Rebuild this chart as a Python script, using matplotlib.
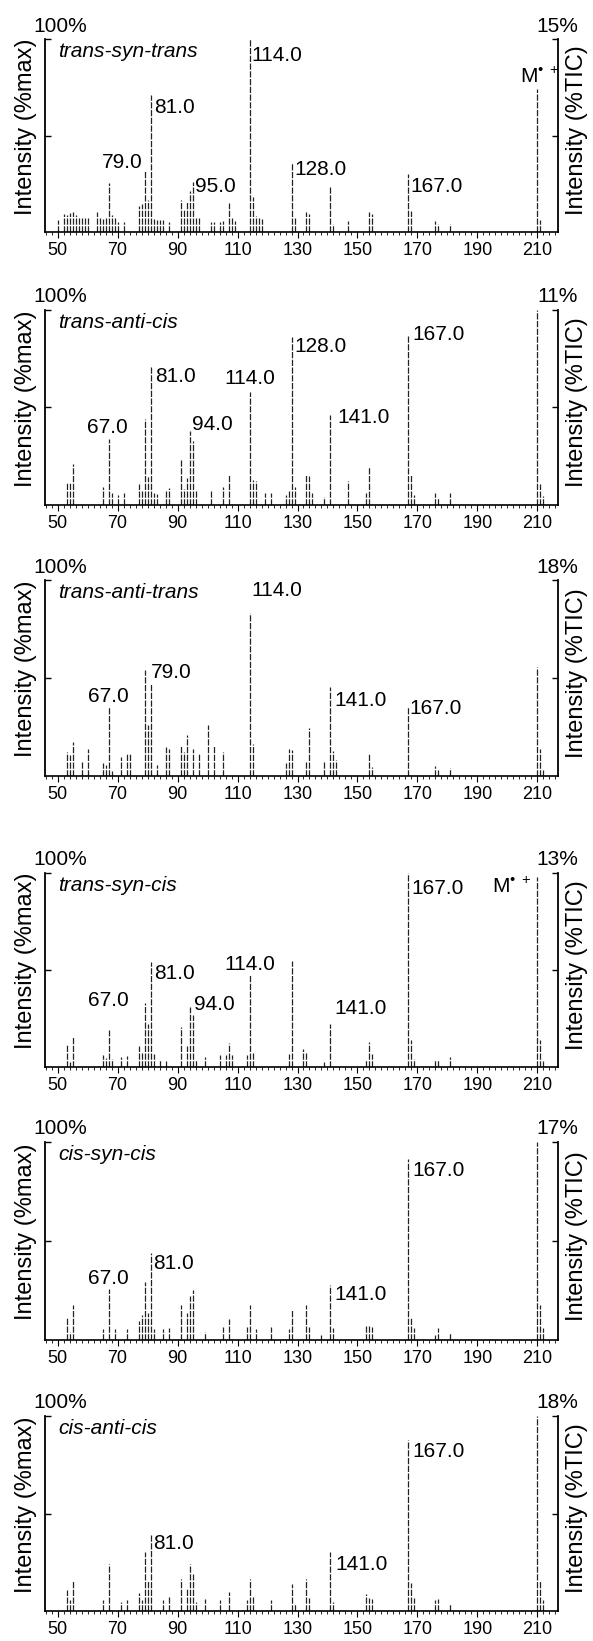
import matplotlib.pyplot as plt
from matplotlib.ticker import MultipleLocator

plt.rcParams['font.family'] = ['Liberation Sans', 'DejaVu Sans']
plt.rcParams['mathtext.fontset'] = 'custom'
plt.rcParams['mathtext.rm'] = 'Liberation Sans'
plt.rcParams['mathtext.it'] = 'Liberation Sans:italic'

# ---- data (m/z, intensity %max) per isomer ----
names = ['trans-syn-trans', 'trans-anti-cis', 'trans-anti-trans',
         'trans-syn-cis', 'cis-syn-cis', 'cis-anti-cis']
tic_pct = ['15%', '11%', '18%', '13%', '17%', '18%']

tst_mz = [50, 52, 53, 54, 55, 56, 57, 58, 59, 60, 63, 64, 65, 66, 67, 68, 69, 70, 72,
          77, 78, 79, 80, 81, 82, 83, 84, 85, 87, 91, 92, 93, 94, 95, 96, 97, 101, 102,
          104, 105, 107, 108, 109, 114, 115, 116, 117, 118, 128, 129, 133, 134, 141, 142,
          147, 154, 155, 167, 168, 176, 177, 181, 210, 211]
tst_int = [6, 9.5, 9, 10, 10.5, 9, 8, 8, 8, 7, 10.4, 7, 6.5, 7, 25.4, 9, 8, 5, 5,
           13.5, 14.5, 32, 16.5, 71, 6.5, 6, 6, 6, 5, 16.6, 12, 16, 21, 26, 7, 7, 5, 5,
           5, 5.5, 15.2, 7, 5.5, 100, 18.3, 8.5, 7, 6.5, 35.6, 7, 10.5, 9.5, 23.5, 4,
           5.5, 10.5, 9.5, 30, 11, 5.5, 4, 4.3, 74, 6]

tac_mz = [53, 54, 55, 65, 67, 68, 70, 72, 77, 78, 79, 80, 81, 82, 83, 86, 87, 91, 92,
          93, 94, 95, 96, 101, 105, 107, 114, 115, 116, 119, 121, 126, 127, 128, 129,
          133, 134, 135, 139, 141, 147, 153, 154, 167, 168, 169, 176, 177, 181, 210,
          211, 212]
tac_int = [12, 12, 21, 9.4, 34, 6, 5, 6, 11, 7, 44, 14.5, 71, 6, 5.5, 7.7, 8.5, 23, 8,
           13.7, 38, 33, 7.7, 7.7, 9.4, 15.4, 58, 13, 12.5, 6, 6, 5, 7.7, 86, 9.4,
           16, 15, 6, 4.3, 46, 12.5, 6, 19.7, 87, 16, 5, 6, 3.4, 6, 100,
           11, 4.6]

tat_mz = [53, 54, 55, 58, 60, 65, 66, 67, 68, 71, 73, 74, 79, 80, 81, 83, 86, 87, 91,
          92, 93, 95, 97, 100, 102, 105, 114, 115, 126, 127, 128, 133, 134, 139, 141,
          142, 143, 154, 155, 167, 176, 177, 181, 210, 211, 212]
tat_int = [12.4, 10.7, 17.5, 7.3, 13.6, 6.8, 5.6, 35.4, 2.7, 9.5, 11.6, 11.6, 54, 26,
           46.8, 5.6, 15, 14, 15.8, 12, 21, 13.8, 11.6, 26, 15.8, 12, 83, 16.3, 6.5,
           13.6, 13.3, 7.8, 24.3, 7.3, 45.6, 13, 8.2, 11.6, 4.8, 35, 5, 3, 4, 55.8,
           13.6, 3]

tsc_mz = [53, 54, 55, 65, 66, 67, 68, 71, 73, 77, 78, 79, 80, 81, 82, 84, 86, 91, 93,
          94, 95, 96, 99, 104, 106, 107, 108, 113, 114, 115, 127, 128, 132, 133, 139,
          141, 153, 154, 155, 167, 168, 169, 176, 177, 181, 210, 211, 212]
tsc_int = [12, 2.6, 15.9, 6, 4.5, 19, 4.3, 5.2, 5.5, 10.7, 7.8, 32.8, 22, 54.3, 6.9,
           3.4, 3, 20.7, 11, 30.7, 26.7, 3.4, 5.2, 6, 6, 12.6, 6, 6, 47.4, 7.4, 6.9,
           54.7, 9.5, 7.8, 2.5, 22.4, 3.4, 13, 6.6, 100, 13.8, 4.3, 3.8, 3.8, 5.2, 98,
           14, 3]

csc_mz = [53, 54, 55, 65, 67, 69, 73, 77, 78, 79, 80, 81, 82, 85, 87, 91, 93, 94, 95,
          99, 105, 107, 113, 114, 116, 121, 127, 128, 133, 134, 138, 141, 142, 153, 154,
          155, 167, 168, 169, 176, 177, 181, 210, 211, 212]
csc_int = [11, 4.2, 17.6, 5.4, 26, 5.4, 5.4, 9.6, 12.6, 29.4, 13.4, 43.7, 5.4, 5.4,
           5.9, 17.6, 13.4, 22.2, 25.5, 4.2, 6.4, 10.4, 6.4, 17.6, 5.4, 6.4, 5.4, 15,
           17.6, 6.4, 2.5, 27.7, 5.9, 7, 7, 6.4, 91.6, 11.8, 5.9, 2.5, 5.9, 3.7, 100,
           17.6, 5.9]

cac_mz = [53, 54, 55, 65, 67, 71, 73, 77, 78, 79, 80, 81, 85, 87, 91, 93, 94, 95, 96,
          99, 104, 107, 113, 114, 115, 121, 128, 129, 133, 134, 141, 142, 153, 154, 155,
          167, 168, 169, 176, 177, 181, 210, 211, 212]
cac_int = [10.6, 5.5, 15.4, 5.5, 24.3, 4.6, 5.5, 9.2, 5.5, 30.3, 15.8, 39.7, 5.5, 7.2,
           16.6, 11.5, 24, 19.2, 4.6, 6.3, 5.8, 9.8, 5.8, 16.6, 7.2, 5.8, 13.7, 3.8,
           16.6, 6.8, 30.3, 4.6, 8.9, 6.8, 6.3, 87.7, 14.4, 6.8, 5.8, 6.3, 3.4, 100,
           15.8, 5.8]

spectra = [(tst_mz, tst_int), (tac_mz, tac_int), (tat_mz, tat_int),
           (tsc_mz, tsc_int), (csc_mz, csc_int), (cac_mz, cac_int)]

# labelled peaks per panel
labelled = [[79, 81, 95, 114, 128, 167], [67, 81, 94, 114, 128, 141, 167],
            [67, 79, 114, 141, 167], [67, 81, 94, 114, 141, 167],
            [67, 81, 141, 167], [81, 141, 167]]
ion_peak = [210, None, None, 210, None, None]

# ---- layout (pixels) ----
W, H = 593, 1641
PX = 72 / 100  # points per pixel at dpi 100
tops = [39, 310, 580, 873, 1142, 1416]
bots = [232, 505, 776, 1067, 1340, 1611]
x0, x1 = 45, 557.5

# label placement: mz -> (ha, va, dx px, dy px)
lab_pos = [
    {79: ('right', 'baseline', -2, 2), 81: ('left', 'top', 4, -3), 95: ('left', 'top', 2, 5),
     114: ('left', 'top', 2, -7), 128: ('left', 'top', 3, 3), 167: ('left', 'top', 2, -3)},
    {67: ('center', 'baseline', -1, 6), 81: ('left', 'top', 5, 0), 94: ('left', 'baseline', 2, 1),
     114: ('center', 'baseline', 0, 8), 128: ('left', 'top', 3, 0), 141: ('left', 'top', 7, 7),
     167: ('left', 'top', 4, 10)},
    {67: ('center', 'baseline', 0, 5), 79: ('left', 'top', 6, 7), 114: ('left', 'baseline', 2, 17),
     141: ('left', 'top', 4, -4), 167: ('left', 'top', 1, 8)},
    {67: ('center', 'baseline', 0, 24), 81: ('left', 'top', 4, -2), 94: ('left', 'baseline', 4, -3),
     114: ('center', 'baseline', 0, 5), 141: ('left', 'baseline', 4, 10), 167: ('left', 'top', 3, -6)},
    {67: ('center', 'baseline', 0, 5), 81: ('left', 'top', 3, -1), 141: ('left', 'top', 4, 0),
     167: ('left', 'top', 4, -2)},
    {81: ('left', 'top', 3, 0), 141: ('left', 'top', 5, -3), 167: ('left', 'top', 4, -2)},
]
ion_pos = [('left', 'baseline', -17, 6), None, None, ('left', 'top', -45, 0), None, None]

fig = plt.figure(figsize=(W / 100, H / 100), dpi=100)

for i, (mz, inten) in enumerate(spectra):
    top, bot = tops[i], bots[i]
    ax = fig.add_axes([x0 / W, 1 - bot / H, (x1 - x0) / W, (bot - top) / H])
    # scanned-looking, slightly broken stick lines
    ax.vlines(mz, 0, inten, color='#222222', lw=0.9, linestyles=[(0, (5, 1.2))])
    ax.set_xlim(45.83, 216.67)
    ax.set_ylim(0, 100)

    ax.spines['top'].set_visible(False)
    ax.spines['left'].set_linewidth(1.3)
    ax.spines['right'].set_linewidth(1.3)
    ax.spines['bottom'].set_linewidth(1.2)
    ax.set_yticks([50, 100])
    ax.tick_params(axis='y', direction='in', length=4, width=1, left=True, right=True,
                   labelleft=False, labelright=False)
    ax.set_xticks(range(50, 211, 20))
    ax.xaxis.set_minor_locator(MultipleLocator(2))
    ax.tick_params(axis='x', which='major', direction='out', length=4, width=0.8,
                   labelsize=13, pad=3)
    ax.tick_params(axis='x', which='minor', direction='out', length=2, width=0.6)

    lookup = dict(zip(mz, inten))
    for m in labelled[i]:
        ha, va, dx, dy = lab_pos[i][m]
        ax.annotate(f'{m:.1f}', xy=(m, lookup[m]), xytext=(dx * PX, dy * PX),
                    textcoords='offset points', ha=ha, va=va, fontsize=15)
    if ion_peak[i] is not None:
        m = ion_peak[i]
        ha, va, dx, dy = ion_pos[i]
        ax.annotate('M$^{\u2022\\ +}$', xy=(m, lookup[m]), xytext=(dx * PX, dy * PX),
                    textcoords='offset points', ha=ha, va=va, fontsize=15)

    mid = (top + bot) / 2
    fig.text(33 / W, 1 - (top - 7.5) / H, '100%', ha='left', va='baseline', fontsize=15)
    fig.text(578 / W, 1 - (top - 7.5) / H, tic_pct[i], ha='right', va='baseline', fontsize=15)
    fig.text(58 / W, 1 - (top + 18) / H, names[i], ha='left', va='baseline',
             fontsize=15, style='italic')
    fig.text(26 / W, 1 - (mid - 9) / H, 'Intensity (%max)', rotation=90,
             ha='center', va='center', fontsize=17)
    fig.text(577 / W, 1 - (mid - 5) / H, 'Intensity (%TIC)', rotation=90,
             ha='center', va='center', fontsize=17)

fig.savefig('out.png', dpi=100)
